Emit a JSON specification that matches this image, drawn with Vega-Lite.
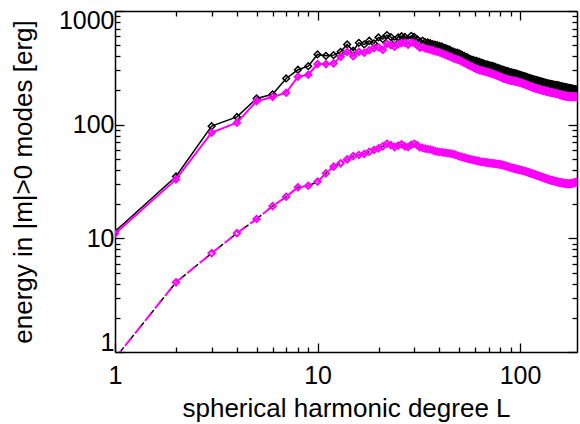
{
  "$schema": "https://vega.github.io/schema/vega-lite/v6.json",
  "width": 462,
  "height": 341,
  "autosize": "none",
  "padding": {"left": 115, "top": 11, "right": 3, "bottom": 72},
  "background": "white",
  "config": {
    "view": {"stroke": null},
    "axis": {"domainColor": "black", "domainWidth": 1.5, "tickColor": "black", "tickWidth": 1.3, "labelFont": "Liberation Sans", "titleFont": "Liberation Sans", "labelColor": "black", "titleColor": "black", "grid": false, "titleFontWeight": "normal"}
  },
  "data": {"values": [
    {"L":1,"black":11.5,"magenta":11.0,"lower":0.88},
    {"L":2,"black":35,"magenta":33,"lower":4.1},
    {"L":3,"black":97,"magenta":85,"lower":7.4},
    {"L":4,"black":117,"magenta":104,"lower":11.1},
    {"L":5,"black":170,"magenta":161,"lower":14.8},
    {"L":6,"black":185,"magenta":175,"lower":19.2},
    {"L":7,"black":255,"magenta":191,"lower":23.2},
    {"L":8,"black":304,"magenta":264,"lower":28.1},
    {"L":9,"black":327,"magenta":275,"lower":29.0},
    {"L":10,"black":415,"magenta":341,"lower":31.5},
    {"L":11,"black":403,"magenta":341,"lower":37.3},
    {"L":12,"black":409,"magenta":346,"lower":42.7},
    {"L":13,"black":437,"magenta":395,"lower":45.7},
    {"L":14,"black":508,"magenta":437,"lower":49.5},
    {"L":15,"black":447,"magenta":400,"lower":52.9},
    {"L":16,"black":525,"magenta":437,"lower":54.1},
    {"L":17,"black":508,"magenta":429,"lower":55.2},
    {"L":18,"black":547,"magenta":453,"lower":57.8},
    {"L":19,"black":519,"magenta":470,"lower":59.8},
    {"L":20,"black":586,"magenta":480,"lower":61.9},
    {"L":21,"black":565,"magenta":455,"lower":64.5},
    {"L":22,"black":614,"magenta":515,"lower":68.0},
    {"L":23,"black":590,"magenta":500,"lower":66.0},
    {"L":24,"black":555,"magenta":485,"lower":63.5},
    {"L":25,"black":585,"magenta":510,"lower":65.5},
    {"L":26,"black":600,"magenta":522,"lower":67.0},
    {"L":27,"black":592,"magenta":525,"lower":64.5},
    {"L":28,"black":568,"magenta":505,"lower":63.5},
    {"L":29,"black":605,"magenta":528,"lower":66.5},
    {"L":30,"black":592,"magenta":520,"lower":68.0},
    {"L":31,"black":565,"magenta":500,"lower":66.0},
    {"L":32,"black":540,"magenta":476,"lower":63.0},
    {"L":33,"black":548,"magenta":482,"lower":62.5},
    {"L":34,"black":532,"magenta":468,"lower":61.5},
    {"L":35,"black":528,"magenta":462,"lower":61.0},
    {"L":36,"black":520,"magenta":456,"lower":60.5},
    {"L":37,"black":512,"magenta":450,"lower":59.5},
    {"L":38,"black":505,"magenta":442,"lower":58.5},
    {"L":39,"black":500,"magenta":438,"lower":58.0},
    {"L":40,"black":492,"magenta":432,"lower":57.5},
    {"L":41,"black":487,"magenta":424,"lower":57.4},
    {"L":42,"black":477,"magenta":419,"lower":56.7},
    {"L":43,"black":471,"magenta":409,"lower":56.6},
    {"L":44,"black":461,"magenta":404,"lower":56.0},
    {"L":45,"black":456,"magenta":396,"lower":55.9},
    {"L":46,"black":444,"magenta":391,"lower":55.3},
    {"L":47,"black":438,"magenta":382,"lower":55.1},
    {"L":48,"black":431,"magenta":379,"lower":54.2},
    {"L":49,"black":429,"magenta":373,"lower":53.6},
    {"L":50,"black":423,"magenta":371,"lower":52.7},
    {"L":51,"black":417,"magenta":361,"lower":52.3},
    {"L":52,"black":407,"magenta":357,"lower":51.7},
    {"L":53,"black":402,"magenta":349,"lower":51.3},
    {"L":54,"black":394,"magenta":345,"lower":50.7},
    {"L":55,"black":390,"magenta":337,"lower":50.4},
    {"L":56,"black":381,"magenta":334,"lower":49.8},
    {"L":57,"black":377,"magenta":327,"lower":49.6},
    {"L":58,"black":371,"magenta":325,"lower":49.1},
    {"L":59,"black":369,"magenta":317,"lower":48.9},
    {"L":60,"black":364,"magenta":314,"lower":48.4},
    {"L":61,"black":363,"magenta":308,"lower":48.4},
    {"L":62,"black":358,"magenta":306,"lower":47.8},
    {"L":63,"black":357,"magenta":301,"lower":47.6},
    {"L":64,"black":351,"magenta":301,"lower":47.2},
    {"L":65,"black":349,"magenta":297,"lower":47.2},
    {"L":66,"black":344,"magenta":297,"lower":46.8},
    {"L":67,"black":343,"magenta":293,"lower":46.8},
    {"L":68,"black":338,"magenta":293,"lower":46.4},
    {"L":69,"black":337,"magenta":289,"lower":46.4},
    {"L":70,"black":333,"magenta":288,"lower":45.9},
    {"L":71,"black":332,"magenta":284,"lower":46.0},
    {"L":72,"black":328,"magenta":284,"lower":45.7},
    {"L":73,"black":328,"magenta":279,"lower":45.8},
    {"L":74,"black":323,"magenta":279,"lower":45.4},
    {"L":75,"black":323,"magenta":275,"lower":45.5},
    {"L":76,"black":318,"magenta":274,"lower":45.1},
    {"L":77,"black":317,"magenta":270,"lower":45.2},
    {"L":78,"black":313,"magenta":269,"lower":44.8},
    {"L":79,"black":312,"magenta":265,"lower":44.9},
    {"L":80,"black":308,"magenta":264,"lower":44.5},
    {"L":81,"black":307,"magenta":259,"lower":44.5},
    {"L":82,"black":303,"magenta":259,"lower":44.1},
    {"L":83,"black":303,"magenta":254,"lower":44.1},
    {"L":84,"black":299,"magenta":255,"lower":43.6},
    {"L":85,"black":299,"magenta":251,"lower":43.5},
    {"L":86,"black":295,"magenta":251,"lower":43.0},
    {"L":87,"black":295,"magenta":248,"lower":42.9},
    {"L":88,"black":291,"magenta":248,"lower":42.4},
    {"L":89,"black":291,"magenta":245,"lower":42.3},
    {"L":90,"black":287,"magenta":246,"lower":41.8},
    {"L":91,"black":288,"magenta":243,"lower":41.8},
    {"L":92,"black":284,"magenta":244,"lower":41.4},
    {"L":93,"black":285,"magenta":241,"lower":41.4},
    {"L":94,"black":282,"magenta":242,"lower":41.0},
    {"L":95,"black":282,"magenta":239,"lower":41.0},
    {"L":96,"black":279,"magenta":240,"lower":40.6},
    {"L":97,"black":279,"magenta":237,"lower":40.6},
    {"L":98,"black":275,"magenta":238,"lower":40.2},
    {"L":99,"black":276,"magenta":235,"lower":40.2},
    {"L":100,"black":272,"magenta":235,"lower":39.9},
    {"L":101,"black":273,"magenta":233,"lower":39.9},
    {"L":102,"black":269,"magenta":233,"lower":39.5},
    {"L":103,"black":270,"magenta":230,"lower":39.5},
    {"L":104,"black":266,"magenta":230,"lower":39.1},
    {"L":105,"black":267,"magenta":227,"lower":39.1},
    {"L":106,"black":263,"magenta":227,"lower":38.7},
    {"L":107,"black":264,"magenta":224,"lower":38.7},
    {"L":108,"black":260,"magenta":224,"lower":38.3},
    {"L":109,"black":261,"magenta":221,"lower":38.3},
    {"L":110,"black":257,"magenta":221,"lower":37.9},
    {"L":111,"black":258,"magenta":218,"lower":37.9},
    {"L":112,"black":254,"magenta":218,"lower":37.5},
    {"L":113,"black":255,"magenta":215,"lower":37.5},
    {"L":114,"black":252,"magenta":216,"lower":37.1},
    {"L":115,"black":253,"magenta":213,"lower":37.1},
    {"L":116,"black":249,"magenta":213,"lower":36.7},
    {"L":117,"black":250,"magenta":210,"lower":36.7},
    {"L":118,"black":247,"magenta":211,"lower":36.3},
    {"L":119,"black":248,"magenta":208,"lower":36.3},
    {"L":120,"black":245,"magenta":209,"lower":35.9},
    {"L":121,"black":246,"magenta":206,"lower":35.9},
    {"L":122,"black":243,"magenta":207,"lower":35.6},
    {"L":123,"black":244,"magenta":205,"lower":35.6},
    {"L":124,"black":241,"magenta":206,"lower":35.2},
    {"L":125,"black":242,"magenta":203,"lower":35.2},
    {"L":126,"black":239,"magenta":204,"lower":34.9},
    {"L":127,"black":240,"magenta":201,"lower":34.9},
    {"L":128,"black":237,"magenta":203,"lower":34.5},
    {"L":129,"black":238,"magenta":200,"lower":34.5},
    {"L":130,"black":235,"magenta":201,"lower":34.1},
    {"L":131,"black":236,"magenta":198,"lower":34.2},
    {"L":132,"black":233,"magenta":200,"lower":33.8},
    {"L":133,"black":234,"magenta":197,"lower":33.8},
    {"L":134,"black":231,"magenta":198,"lower":33.5},
    {"L":135,"black":232,"magenta":195,"lower":33.5},
    {"L":136,"black":230,"magenta":197,"lower":33.2},
    {"L":137,"black":231,"magenta":194,"lower":33.2},
    {"L":138,"black":228,"magenta":195,"lower":32.9},
    {"L":139,"black":229,"magenta":193,"lower":32.9},
    {"L":140,"black":227,"magenta":194,"lower":32.6},
    {"L":141,"black":228,"magenta":192,"lower":32.6},
    {"L":142,"black":225,"magenta":193,"lower":32.4},
    {"L":143,"black":227,"magenta":191,"lower":32.4},
    {"L":144,"black":224,"magenta":192,"lower":32.2},
    {"L":145,"black":226,"magenta":190,"lower":32.2},
    {"L":146,"black":223,"magenta":191,"lower":32.0},
    {"L":147,"black":225,"magenta":189,"lower":32.0},
    {"L":148,"black":222,"magenta":190,"lower":31.8},
    {"L":149,"black":224,"magenta":188,"lower":31.8},
    {"L":150,"black":222,"magenta":189,"lower":31.6},
    {"L":151,"black":223,"magenta":187,"lower":31.6},
    {"L":152,"black":220,"magenta":188,"lower":31.4},
    {"L":153,"black":222,"magenta":186,"lower":31.4},
    {"L":154,"black":219,"magenta":187,"lower":31.2},
    {"L":155,"black":221,"magenta":185,"lower":31.2},
    {"L":156,"black":218,"magenta":186,"lower":31.0},
    {"L":157,"black":219,"magenta":183,"lower":31.0},
    {"L":158,"black":217,"magenta":184,"lower":30.9},
    {"L":159,"black":218,"magenta":182,"lower":30.9},
    {"L":160,"black":216,"magenta":183,"lower":30.8},
    {"L":161,"black":217,"magenta":180,"lower":30.8},
    {"L":162,"black":215,"magenta":182,"lower":30.7},
    {"L":163,"black":216,"magenta":179,"lower":30.7},
    {"L":164,"black":214,"magenta":181,"lower":30.6},
    {"L":165,"black":215,"magenta":178,"lower":30.6},
    {"L":166,"black":213,"magenta":180,"lower":30.5},
    {"L":167,"black":214,"magenta":178,"lower":30.5},
    {"L":168,"black":212,"magenta":179,"lower":30.4},
    {"L":169,"black":213,"magenta":177,"lower":30.4},
    {"L":170,"black":211,"magenta":179,"lower":30.3},
    {"L":171,"black":212,"magenta":176,"lower":30.3},
    {"L":172,"black":210,"magenta":178,"lower":30.2},
    {"L":173,"black":211,"magenta":176,"lower":30.2},
    {"L":174,"black":209,"magenta":178,"lower":30.2},
    {"L":175,"black":210,"magenta":175,"lower":30.2},
    {"L":176,"black":208,"magenta":177,"lower":30.2},
    {"L":177,"black":209,"magenta":175,"lower":30.2},
    {"L":178,"black":207,"magenta":177,"lower":30.3},
    {"L":179,"black":208,"magenta":175,"lower":30.3},
    {"L":180,"black":206,"magenta":177,"lower":30.4},
    {"L":181,"black":207,"magenta":175,"lower":30.4},
    {"L":182,"black":205,"magenta":177,"lower":30.5},
    {"L":183,"black":206,"magenta":175,"lower":30.6},
    {"L":184,"black":204,"magenta":177,"lower":30.7},
    {"L":185,"black":205,"magenta":176,"lower":30.8},
    {"L":186,"black":203,"magenta":177,"lower":30.9},
    {"L":187,"black":204,"magenta":176,"lower":31.0},
    {"L":188,"black":203,"magenta":177,"lower":31.1},
    {"L":189,"black":204,"magenta":176,"lower":31.2},
    {"L":190,"black":203,"magenta":177,"lower":31.4}
  ]},
  "resolve": {"axis": {"x": "independent", "y": "independent"}},
  "layer": [
    {
      "mark": {"type": "point", "opacity": 0},
      "encoding": {
        "x": {"field": "L", "type": "quantitative", "scale": {"type": "log", "domain": [1, 191], "nice": false},
          "axis": {"orient": "top", "values": [1,2,3,4,5,6,7,8,9,10,20,30,40,50,60,70,80,90,100], "labels": false, "title": null,
            "tickSize": {"condition": {"test": "indexof([1,10,100,1000], datum.value) >= 0", "value": -9}, "value": -5}}},
        "y": {"field": "black", "type": "quantitative", "scale": {"type": "log", "domain": [1, 1000], "nice": false},
          "axis": {"orient": "right", "values": [1,2,3,4,5,6,7,8,9,10,20,30,40,50,60,70,80,90,100,200,300,400,500,600,700,800,900,1000], "labels": false, "title": null,
            "tickSize": {"condition": {"test": "indexof([1,10,100,1000], datum.value) >= 0", "value": -9}, "value": -5}}}
      }
    },
    {
      "mark": {"type": "line", "color": "black", "strokeWidth": 1.5, "clip": true,
        "point": {"shape": "diamond", "filled": false, "size": 45, "stroke": "black", "strokeWidth": 1.5}},
      "encoding": {
        "x": {"field": "L", "type": "quantitative", "scale": {"type": "log", "domain": [1, 191], "nice": false},
          "axis": {"orient": "bottom", "values": [1,2,3,4,5,6,7,8,9,10,20,30,40,50,60,70,80,90,100],
            "tickSize": {"condition": {"test": "indexof([1,10,100,1000], datum.value) >= 0", "value": -9}, "value": -5},
            "labelExpr": "indexof([1,10,100,1000], datum.value) >= 0 ? '' + datum.value : ''",
            "labelFontSize": 25, "labelPadding": 20, "labelFlush": false, "labelOverlap": false,
            "title": "spherical harmonic degree L", "titleFontSize": 26, "titlePadding": 3}},
        "y": {"field": "black", "type": "quantitative", "scale": {"type": "log", "domain": [1, 1000], "nice": false},
          "axis": {"orient": "left", "values": [1,2,3,4,5,6,7,8,9,10,20,30,40,50,60,70,80,90,100,200,300,400,500,600,700,800,900,1000],
            "tickSize": {"condition": {"test": "indexof([1,10,100,1000], datum.value) >= 0", "value": -9}, "value": -5},
            "labelExpr": "indexof([1,10,100,1000], datum.value) >= 0 ? '' + datum.value : ''",
            "labelFontSize": 25, "labelPadding": 10, "labelFlush": true, "labelFlushOffset": 3, "labelOverlap": false,
            "title": "energy in |m|>0 modes [erg]", "titleFontSize": 26, "titlePadding": 22}}
      }
    },
    {
      "mark": {"type": "line", "color": "black", "strokeWidth": 1.5, "strokeDash": [7, 9], "strokeDashOffset": 9, "clip": true},
      "encoding": {
        "x": {"field": "L", "type": "quantitative", "scale": {"type": "log", "domain": [1, 191], "nice": false}, "axis": null},
        "y": {"field": "lower", "type": "quantitative", "scale": {"type": "log", "domain": [1, 1000], "nice": false}, "axis": null}
      }
    },
    {
      "mark": {"type": "line", "color": "#ff00ff", "strokeWidth": 2, "clip": true,
        "point": {"shape": "diamond", "filled": false, "size": 40, "stroke": "#ff00ff", "strokeWidth": 2}},
      "encoding": {
        "x": {"field": "L", "type": "quantitative", "scale": {"type": "log", "domain": [1, 191], "nice": false}, "axis": null},
        "y": {"field": "magenta", "type": "quantitative", "scale": {"type": "log", "domain": [1, 1000], "nice": false}, "axis": null}
      }
    },
    {
      "mark": {"type": "line", "color": "#ff00ff", "strokeWidth": 2, "strokeDash": [10, 6], "clip": true,
        "point": {"shape": "diamond", "filled": false, "size": 40, "stroke": "#ff00ff", "strokeWidth": 2}},
      "encoding": {
        "x": {"field": "L", "type": "quantitative", "scale": {"type": "log", "domain": [1, 191], "nice": false}, "axis": null},
        "y": {"field": "lower", "type": "quantitative", "scale": {"type": "log", "domain": [1, 1000], "nice": false}, "axis": null}
      }
    }
  ]
}
